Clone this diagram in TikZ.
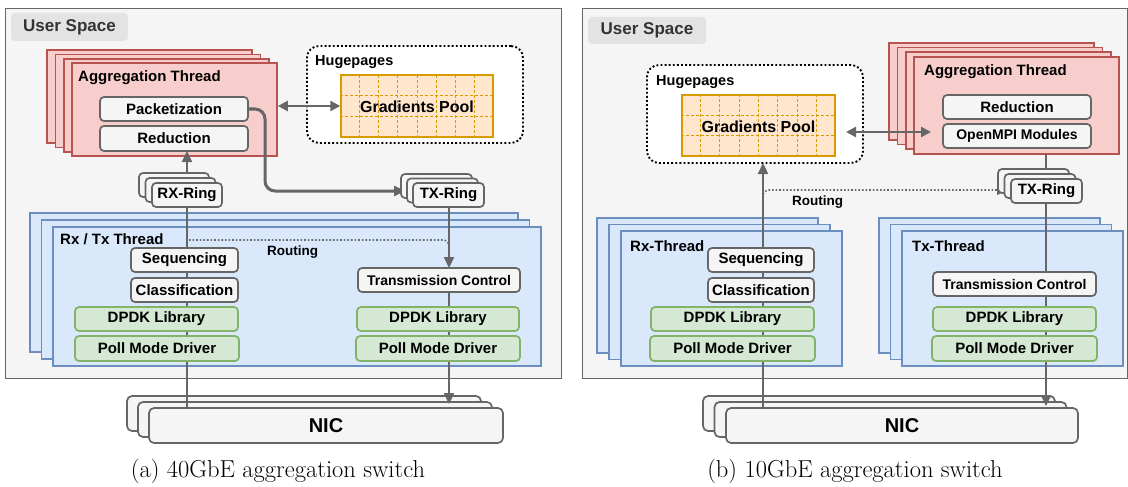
\documentclass[tikz,border=0pt]{standalone}
\usepackage{fontspec}
\newfontfamily\dsans{Liberation Sans}
\usetikzlibrary{arrows.meta,calc}
\definecolor{grayln}{HTML}{666666}
\definecolor{panelfill}{HTML}{F5F5F5}
\definecolor{labelfill}{HTML}{E3E3E3}
\definecolor{redfill}{HTML}{F8CECC}
\definecolor{redln}{HTML}{B85450}
\definecolor{bluefill}{HTML}{DAE8FC}
\definecolor{blueln}{HTML}{6C8EBF}
\definecolor{greenfill}{HTML}{D5E8D4}
\definecolor{greenln}{HTML}{82B366}
\definecolor{orfill}{HTML}{FFE6CC}
\definecolor{orln}{HTML}{D79B00}
\definecolor{txtgray}{HTML}{333333}
\tikzset{
  panel/.style={draw=grayln, fill=panelfill, line width=1pt, anchor=north west},
  uslabel/.style={fill=labelfill, rounded corners=4pt, text=txtgray, font=\dsans\bfseries\fontsize{17}{20}\selectfont},
  redbox/.style={draw=redln, fill=redfill, line width=1.7pt},
  bluebox/.style={draw=blueln, fill=bluefill, line width=1.7pt},
  graybox/.style={draw=grayln, fill=panelfill, line width=1.7pt, rounded corners=4pt, inner sep=2pt, font=\dsans\bfseries\fontsize{15}{18}\selectfont},
  greenbox/.style={draw=greenln, fill=greenfill, line width=1.7pt, rounded corners=4pt, inner sep=2pt, font=\dsans\bfseries\fontsize{15}{18}\selectfont},
  nicbox/.style={draw=grayln, fill=panelfill, line width=1.7pt, rounded corners=5pt},
  hugebox/.style={draw=black, fill=white, line width=1.9pt, dash pattern=on 1.9pt off 2.2pt, rounded corners=12pt},
  poolbox/.style={draw=orln, fill=orfill, line width=1.4pt},
  gridln/.style={draw=orln, line width=0.9pt, dash pattern=on 3pt off 2pt},
  ttl/.style={font=\dsans\bfseries\fontsize{15}{18}\selectfont, inner sep=0pt},
  conn/.style={draw=grayln, line width=2.3pt},
  thick conn/.style={draw=grayln, line width=3pt},
  tip/.style={-{Triangle[length=11pt,width=10pt]}},
  dtip/.style={{Triangle[length=10pt,width=10pt]}-{Triangle[length=10pt,width=10pt]}},
  routeln/.style={draw=grayln, line width=1.6pt, dash pattern=on 1.6pt off 2pt},
  capt/.style={font=\fontsize{24.5}{29}\selectfont, inner sep=0pt},
}
\begin{document}
\begin{tikzpicture}[x=1pt,y=-1pt]
\useasboundingbox (0,0) rectangle (1128,487);
\fill[white] (0,0) rectangle (1128,487);

% ---------- panels ----------
\node[panel, minimum width=556, minimum height=370] (panL) at (5,8) {};
\node[panel, minimum width=545, minimum height=370] (panR) at (582,8) {};
\node[uslabel, minimum width=117, minimum height=28] (usL) at (69.5,27) {User Space};
\node[uslabel, minimum width=118, minimum height=27] (usR) at (647,30.5) {User Space};

% ---------- hugepages ----------
\node[hugebox, minimum width=216, minimum height=97] (hpL) at (415,94.5) {};
\node[ttl, anchor=west, font=\dsans\bfseries\fontsize{14.5}{17}\selectfont] (hpLt) at (315,62) {Hugepages};
\node[poolbox, minimum width=152, minimum height=62] (gpL) at (417,106) {};
\foreach \i in {1,...,7}
  \draw[gridln] ($(gpL.south west)!\i/8!(gpL.south east)$) -- ($(gpL.north west)!\i/8!(gpL.north east)$);
\foreach \j in {1,2}
  \draw[gridln] ($(gpL.north west)!\j/3!(gpL.south west)$) -- ($(gpL.north east)!\j/3!(gpL.south east)$);
\node[ttl, font=\dsans\bfseries\fontsize{16}{19}\selectfont] (gpLt) at (417,107) {Gradients Pool};

\node[hugebox, minimum width=216, minimum height=98] (hpR) at (755,114) {};
\node[ttl, anchor=west, font=\dsans\bfseries\fontsize{14.5}{17}\selectfont] (hpRt) at (656,82) {Hugepages};
\node[poolbox, minimum width=153, minimum height=61] (gpR) at (758.5,125.5) {};
\foreach \i in {1,...,7}
  \draw[gridln] ($(gpR.south west)!\i/8!(gpR.south east)$) -- ($(gpR.north west)!\i/8!(gpR.north east)$);
\foreach \j in {1,2}
  \draw[gridln] ($(gpR.north west)!\j/3!(gpR.south west)$) -- ($(gpR.north east)!\j/3!(gpR.south east)$);
\node[ttl, font=\dsans\bfseries\fontsize{16}{19}\selectfont] (gpRt) at (758.5,127) {Gradients Pool};

% ---------- aggregation threads ----------
\foreach \k in {3,2,1}
  \node[redbox, minimum width=205, minimum height=93] (agL\k) at ({174.5-8.3*\k},{109.5-4.3*\k}) {};
\node[redbox, minimum width=205, minimum height=93] (agL0) at (174.5,109.5) {};
\node[ttl, anchor=west] (agLt) at (78,78) {Aggregation Thread};
\node[graybox, minimum width=148, minimum height=24] (pkL) at (174,109) {Packetization};
\node[graybox, minimum width=148, minimum height=25] (rdL) at (174,138.5) {Reduction};

\foreach \k in {3,2,1}
  \node[redbox, minimum width=205, minimum height=97] (agR\k) at ({1016.5-8.3*\k},{105.5-4.7*\k}) {};
\node[redbox, minimum width=205, minimum height=97] (agR0) at (1016.5,105.5) {};
\node[ttl, anchor=west] (agRt) at (924,72) {Aggregation Thread};
\node[graybox, minimum width=148, minimum height=24] (rdR) at (1017,107) {Reduction};
\node[graybox, minimum width=148, minimum height=24, font=\dsans\bfseries\fontsize{14}{17}\selectfont] (omR) at (1017,136) {OpenMPI Modules};

% ---------- NICs ----------
\foreach \k in {2,1}
  \node[nicbox, minimum width=354, minimum height=35] (nicL\k) at ({326-11*\k},{425.5-6*\k}) {};
\node[nicbox, minimum width=354, minimum height=35, font=\dsans\bfseries\fontsize{20}{24}\selectfont] (nicL0) at (326,425.5) {NIC};
\foreach \k in {2,1}
  \node[nicbox, minimum width=352, minimum height=35] (nicR\k) at ({902-11.5*\k},{425.5-6*\k}) {};
\node[nicbox, minimum width=352, minimum height=35, font=\dsans\bfseries\fontsize{20}{24}\selectfont] (nicR0) at (902,425.5) {NIC};

% ---------- thread stacks ----------
\foreach \k in {2,1}
  \node[bluebox, minimum width=488, minimum height=139] (thL\k) at ({297-11.5*\k},{296.5-7*\k}) {};
\node[bluebox, minimum width=488, minimum height=139] (thL0) at (297,296.5) {};
\foreach \k in {2,1}
  \node[bluebox, minimum width=221, minimum height=135] (rxT\k) at ({731.5-12*\k},{298.5-6.5*\k}) {};
\node[bluebox, minimum width=221, minimum height=135] (rxT0) at (731.5,298.5) {};
\foreach \k in {2,1}
  \node[bluebox, minimum width=221, minimum height=135] (txT\k) at ({1012.5-11.5*\k},{298.5-6.5*\k}) {};
\node[bluebox, minimum width=221, minimum height=135] (txT0) at (1012.5,298.5) {};

% ---------- coordinates for connectors ----------
\coordinate (rxLb) at (187,207);
\coordinate (rxLt) at (187,183);
\coordinate (rdLin) at (187,151);
\coordinate (nicLtop) at (187,408);
\coordinate (txLb) at (449,207);
\coordinate (tcLtop) at (449,268);
\coordinate (tcLbot) at (449,292);
\coordinate (nicLin) at (449,404);
\coordinate (rtL1) at (189,240);
\coordinate (rtL2) at (449,240);
\coordinate (rtL3) at (449,254);
\coordinate (pkturn1) at (265,109);
\coordinate (pkturn2) at (265,191);
\coordinate (txLin) at (405,191);
\coordinate (rxRtop) at (763,408);
\coordinate (hpRin) at (763,163);
\coordinate (rtR1) at (763,198);
\coordinate (rtR2) at (763,190);
\coordinate (rtRin) at (1007,190);
\coordinate (agRb) at (1046,154);
\coordinate (txRt) at (1046,179);
\coordinate (txRb) at (1046,203);
\coordinate (nicRin) at (1046,406);
\coordinate (daR1) at (846,132);
\coordinate (daR2) at (931,132);

% ---------- connectors ----------
\draw[conn] (rxLb) -- (nicLtop);
\draw[conn, tip] (txLb) -- (tcLtop);
\draw[conn, tip] (tcLbot) -- (nicLin);
\draw[routeln, rounded corners=6pt] (rtL1) -- (rtL2) -- (rtL3);
\draw[thick conn, tip, rounded corners=10pt] (pkL.east) -- (pkturn1) -- (pkturn2) -- (txLin);
\draw[conn, dtip] (agL0.east |- gpL.west) -- (gpL.west);
\draw[conn, tip] (rxLt) -- (rdLin);

\draw[conn, tip] (rxRtop) -- (hpRin);
\draw[routeln, rounded corners=6pt, -{Triangle[length=10pt,width=10pt]}] (rtR1) -- (rtR2) -- (rtRin);
\draw[conn] (agRb) -- (txRt);
\draw[conn, tip] (txRb) -- (nicRin);
\draw[conn, dtip] (daR1) -- (daR2);

% ---------- rings ----------
\foreach \k in {2,1}
  \node[graybox, minimum width=70, minimum height=24] (rxL\k) at ({187-6.5*\k},{195-5*\k}) {};
\node[graybox, minimum width=70, minimum height=24] (rxL0) at (187,195) {RX-Ring};
\foreach \k in {2,1}
  \node[graybox, minimum width=71, minimum height=24] (txL\k) at ({448.5-6*\k},{195-4.5*\k}) {};
\node[graybox, minimum width=71, minimum height=24] (txL0) at (448.5,195) {TX-Ring};
\foreach \k in {2,1}
  \node[graybox, minimum width=71, minimum height=24] (txR\k) at ({1046.5-6.5*\k},{191-5*\k}) {};
\node[graybox, minimum width=71, minimum height=24] (txR0) at (1046.5,191) {TX-Ring};

% ---------- inner thread boxes ----------
\node[ttl, anchor=west] (thLt) at (60,239) {Rx / Tx Thread};
\node[graybox, minimum width=107, minimum height=24] (sqL) at (184.5,260) {Sequencing};
\node[graybox, minimum width=107, minimum height=24] (clL) at (184.5,290) {Classification};
\node[greenbox, minimum width=163, minimum height=24] (dpL1) at (156.5,319) {DPDK Library};
\node[greenbox, minimum width=164, minimum height=25] (pmL1) at (157,348.5) {Poll Mode Driver};
\node[graybox, minimum width=162, minimum height=24, font=\dsans\bfseries\fontsize{14}{17}\selectfont] (tcL) at (439,280) {Transmission Control};
\node[greenbox, minimum width=162, minimum height=24] (dpL2) at (438,319) {DPDK Library};
\node[greenbox, minimum width=164, minimum height=25] (pmL2) at (438,348.5) {Poll Mode Driver};
\node[ttl, anchor=west, font=\dsans\bfseries\fontsize{13.5}{16}\selectfont] (rtLt) at (267,252) {Routing};

\node[ttl, anchor=west] (rxRtl) at (630,246) {Rx-Thread};
\node[graybox, minimum width=106, minimum height=24] (sqR) at (761,260) {Sequencing};
\node[graybox, minimum width=106, minimum height=24] (clR) at (761,290) {Classification};
\node[greenbox, minimum width=163, minimum height=24] (dpR1) at (732.5,319) {DPDK Library};
\node[greenbox, minimum width=165, minimum height=25] (pmR1) at (732.5,348.5) {Poll Mode Driver};
\node[ttl, anchor=west] (txRtl) at (912,246) {Tx-Thread};
\node[graybox, minimum width=163, minimum height=24, font=\dsans\bfseries\fontsize{14}{17}\selectfont] (tcR) at (1014.5,284) {Transmission Control};
\node[greenbox, minimum width=163, minimum height=24] (dpR2) at (1014.5,319) {DPDK Library};
\node[greenbox, minimum width=165, minimum height=25] (pmR2) at (1014.5,348.5) {Poll Mode Driver};
\node[ttl, anchor=west, font=\dsans\bfseries\fontsize{13.5}{16}\selectfont] (rtRtl) at (792,202) {Routing};

% ---------- captions ----------
\node[capt] (capA) at (278,471) {(a) 40GbE aggregation switch};
\node[capt] (capB) at (855,471) {(b) 10GbE aggregation switch};
\end{tikzpicture}
\end{document}
